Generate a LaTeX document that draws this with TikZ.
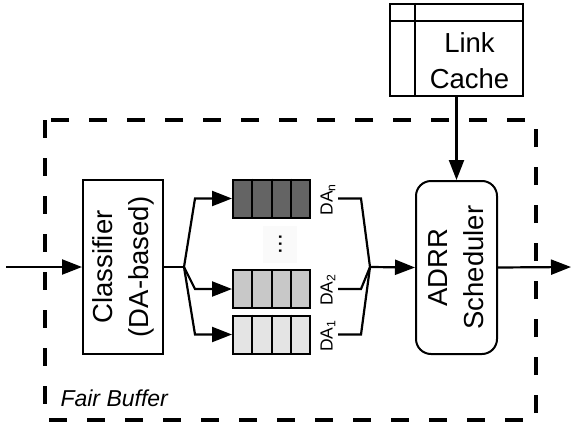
\documentclass[tikz,border=0pt]{standalone}
\usepackage{fontspec}
\setmainfont{Liberation Sans}
\usetikzlibrary{arrows.meta,calc}
\definecolor{qdark}{RGB}{100,100,100}
\definecolor{qmid}{RGB}{200,200,200}
\definecolor{qlight}{RGB}{228,228,228}
\begin{document}
\begin{tikzpicture}[x=1pt,y=-1pt,
  box/.style={draw, line width=2pt, fill=white, inner sep=0pt},
  conn/.style={line width=2.2pt},
  arr/.style={conn, -{Triangle[length=20pt,width=15pt]}},
  lbl/.style={font=\fontsize{27.5}{36}\selectfont, align=center},
  queue/.style={draw, line width=2pt, minimum width=77pt, minimum height=38pt, inner sep=0pt},
  dalabel/.style={rotate=90, font=\fontsize{17.5}{20}\selectfont, inner sep=0pt},
  fairbox/.style={line width=3.8pt, dash pattern=on 18pt off 20pt}
]
\useasboundingbox (0,0) rectangle (572,428);

% enclosing fair buffer
\draw[fairbox] (45,120) rectangle (536,420);
\node[anchor=base west, font=\fontsize{23}{28}\selectfont\itshape] (fb) at (57,406) {Fair Buffer};

% link cache table
\node[box, minimum width=133pt, minimum height=92pt] (cache) at (456.5,50) {};
\draw[line width=2pt] ([yshift=-18pt]cache.north west) -- ([yshift=-18pt]cache.north east);
\draw[line width=2pt] ([xshift=26pt]cache.north west) -- ([xshift=26pt]cache.south west);
\node[lbl] (cachetxt) at (469.5,61) {Link\\Cache};

% classifier and scheduler (rotated, so north = left side, south = right side)
\node[box, rotate=90, minimum width=174pt, minimum height=80pt, lbl] (cls) at (123,267) {Classifier\\(DA-based)};
\node[box, rounded corners=15pt, rotate=90, minimum width=173pt, minimum height=81pt, lbl] (sch) at (456.5,267.5) {ADRR\\Scheduler};

% per-DA queues
\node[queue, fill=qdark] (qn) at (271.5,198.5) {};
\node[queue, fill=qmid] (q2) at (271.5,289) {};
\node[queue, fill=qlight] (q1) at (271.5,334.5) {};
\foreach \q in {qn,q2,q1}
  \foreach \i in {1,2,3}
    \draw[line width=2pt] ($(\q.north west)!\i/4!(\q.north east)$) -- ($(\q.south west)!\i/4!(\q.south east)$);

\node[rotate=90, anchor=base, fill=black!2, inner sep=2pt, minimum width=37pt, minimum height=34pt, font=\fontsize{24}{28}\selectfont] (dots) at (281.5,244) {...};

\node[dalabel] (ln) at (328,199.5) {DA\textsubscript{n}};
\node[dalabel] (l2) at (328,290) {DA\textsubscript{2}};
\node[dalabel] (l1) at (328,336) {DA\textsubscript{1}};

% connectors
\coordinate (in) at (6,267);
\coordinate (split) at (184,267);
\coordinate (merge) at (370,267);
\coordinate (out) at (571,267);

\draw[arr] (in) -- (cls.north);
\draw[conn] (cls.south) -- (split);
\foreach \q in {qn,q2,q1}{
  \draw[arr] (split) -- ([xshift=-37pt]\q.west) -- (\q.west);
  \draw[conn] ([xshift=27pt]\q.east) -- ([xshift=50pt]\q.east) -- (merge);
}
\draw[arr] (merge) -- (sch.north);
\draw[arr] (sch.south) -- (out);
\draw[arr] (cache.south) -- (sch.east);
\end{tikzpicture}
\end{document}
